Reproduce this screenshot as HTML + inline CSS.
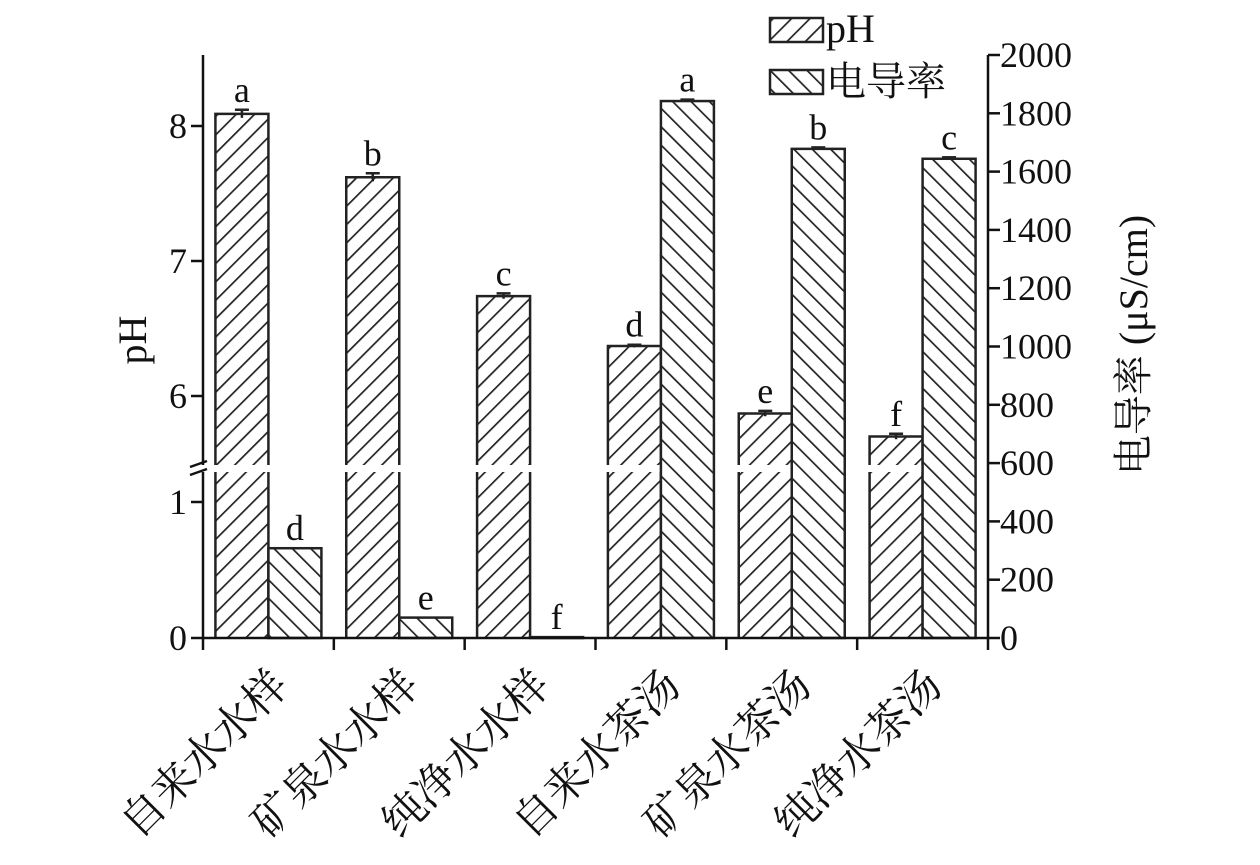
<!DOCTYPE html>
<html><head><meta charset="utf-8"><style>
body{margin:0;background:#fff}
svg text{font-family:"Liberation Serif","Noto Serif CJK SC",serif;fill:#111}
</style></head><body>
<svg id="chart" width="1260" height="860" viewBox="0 0 1260 860" xmlns="http://www.w3.org/2000/svg">
<defs>
<pattern id="hatchF" patternUnits="userSpaceOnUse" width="13" height="13" patternTransform="rotate(45)">
<rect width="13" height="13" fill="#fff"/><line x1="0" y1="0" x2="0" y2="13" stroke="#222" stroke-width="3.4"/></pattern>
<pattern id="hatchB" patternUnits="userSpaceOnUse" width="13" height="13" patternTransform="rotate(-45)">
<rect width="13" height="13" fill="#fff"/><line x1="0" y1="0" x2="0" y2="13" stroke="#222" stroke-width="3.4"/></pattern>
</defs>
<g id="plot"></g>
</svg>
<script>
const categories=["自来水水样","矿泉水水样","纯净水水样","自来水茶汤","矿泉水茶汤","纯净水茶汤"];
const phValues=[8.09,7.62,6.74,6.37,5.87,5.70];
const phErr=[0.03,0.03,0.02,0.01,0.02,0.02];
const phLetters=["a","b","c","d","e","f"];
const condValues=[308,70,3,1842,1678,1644];
const condErr=[0,0,0,5,5,5];
const condLetters=["d","e","f","a","b","c"];
const leftTicksLow=[0,1];
const leftTicksHigh=[6,7,8];
const rightTicks=[0,200,400,600,800,1000,1200,1400,1600,1800,2000];

const NS="http://www.w3.org/2000/svg";
const g=document.getElementById('plot');
function el(t,a,txt){const e=document.createElementNS(NS,t);for(const k in a)e.setAttribute(k,a[k]);if(txt!==undefined)e.textContent=txt;g.appendChild(e);return e;}
const X0=203,X1=988,Y0=638,YT=55,BREAK=468;
const band=(X1-X0)/categories.length;
function yL(v){return v>=5.5?396-(v-6)*135:638-v*136;}
function yR(v){return Y0-v*(Y0-YT)/2000;}
const bw=53;

categories.forEach((c,i)=>{
  const cx=X0+band*(i+0.5);
  const yt=yL(phValues[i]);
  const xl=cx-bw;
  let r=el('rect',{x:xl,y:yt,width:bw,height:BREAK-3-yt,fill:'url(#hatchF)'});
  
  r=el('rect',{x:xl,y:BREAK+4,width:bw,height:Y0-BREAK-4,fill:'url(#hatchF)'});
  
  el('path',{d:`M${xl},${BREAK-3}V${yt}H${xl+bw}V${BREAK-3}M${xl},${BREAK+4}V${Y0}M${xl+bw},${BREAK+4}V${Y0}`,stroke:'#222','stroke-width':2.5,fill:'none'});
  const e1=yL(phValues[i]+phErr[i]),e2=yL(phValues[i]-phErr[i]);
  el('path',{d:`M${cx-bw/2-7},${e1}H${cx-bw/2+7}M${cx-bw/2},${e1}V${e2}`,stroke:'#222','stroke-width':2.5,fill:'none'});
  let t=el('text',{x:cx-bw/2,y:e1-8,'text-anchor':'middle','font-size':36},phLetters[i]);
  
  const yc=yR(condValues[i]);
  r=el('rect',{x:cx,y:yc,width:bw,height:Y0-yc,fill:'url(#hatchB)',stroke:'#222','stroke-width':2.5});
  
  const c1=yR(condValues[i]+condErr[i]);
  if(condErr[i]>0) el('path',{d:`M${cx+bw/2-7},${c1}H${cx+bw/2+7}`,stroke:'#222','stroke-width':2.5});
  t=el('text',{x:cx+22,y:688,'text-anchor':'end','font-size':43,transform:`rotate(-45 ${cx+22} 688)`},c);
  
  t=el('text',{x:cx+bw/2,y:c1-8,'text-anchor':'middle','font-size':36},condLetters[i]);
  
});
let a=el('path',{d:`M${X0},${YT}V${BREAK-3}M${X0},${BREAK+4}V${Y0}H${X1}V${YT}`,stroke:'#111','stroke-width':2.5,fill:'none'});

el('path',{d:`M${X0-13},${BREAK-1}L${X0+4},${BREAK-7}M${X0-13},${BREAK+7}L${X0+4},${BREAK+1}`,stroke:'#111','stroke-width':2.5});
for(let i=0;i<=categories.length;i++){const x=X0+band*i;el('line',{x1:x,y1:Y0,x2:x,y2:Y0+12,stroke:'#111','stroke-width':2.5});}
leftTicksLow.concat(leftTicksHigh).forEach(v=>{const y=yL(v);
  el('line',{x1:X0-12,y1:y,x2:X0,y2:y,stroke:'#111','stroke-width':2.5});
  const t=el('text',{x:X0-16,y:y+12,'text-anchor':'end','font-size':36},v);
  });
rightTicks.forEach(v=>{const y=yR(v);
  el('line',{x1:X1,y1:y,x2:X1+12,y2:y,stroke:'#111','stroke-width':2.5});
  const t=el('text',{x:X1+12,y:y+12,'font-size':36},v);
  });
let t=el('text',{x:146,y:340,'text-anchor':'middle','font-size':40,transform:'rotate(-90 146 340)'},'pH');

t=el('text',{x:1147,y:345,'text-anchor':'middle','font-size':40,transform:'rotate(-90 1147 345)'},'电导率 (μS/cm)');

let l=el('rect',{x:770,y:18,width:53,height:24,fill:'url(#hatchF)',stroke:'#222','stroke-width':2.5});

t=el('text',{x:826,y:42,'font-size':40},'pH');
l=el('rect',{x:770,y:70,width:53,height:24,fill:'url(#hatchB)',stroke:'#222','stroke-width':2.5});

t=el('text',{x:826,y:95,'font-size':40},'电导率');
</script>
</body></html>
